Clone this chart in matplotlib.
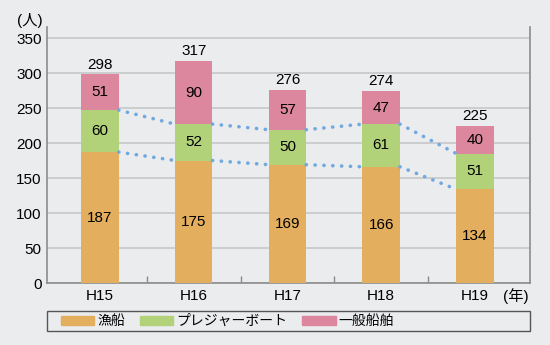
import numpy as np
import matplotlib
matplotlib.use("Agg")
import matplotlib.pyplot as plt
from matplotlib.patches import Rectangle

plt.rcParams['font.family'] = ['Liberation Sans', 'Noto Sans CJK JP', 'DejaVu Sans']

years = ["H15", "H16", "H17", "H18", "H19"]
gyosen = [187, 175, 169, 166, 134]
pleasure = [60, 52, 50, 61, 51]
ippan = [51, 90, 57, 47, 40]
totals = [298, 317, 276, 274, 225]
series_names = ["漁船", "プレジャーボート", "一般船舶"]
colors = ["#e3ae5e", "#b2d27a", "#dc879d"]
bg = "#ebecee"

fig = plt.figure(figsize=(5.5, 3.45), dpi=100, facecolor=bg)
ax = fig.add_axes([0.0855, 0.1797, 0.878, 0.742])
ax.set_facecolor(bg)

x = np.arange(len(years))
w = 0.4
data = [gyosen, pleasure, ippan]
bottom = np.zeros(len(years))
for vals, c in zip(data, colors):
    vals = np.array(vals)
    ax.bar(x, vals, w, bottom=bottom, color=c, zorder=3)
    for xi, b, v in zip(x, bottom, vals):
        ax.text(xi, b + v / 2, str(v), ha="center", va="center",
                fontsize=11, zorder=5)
    bottom = bottom + vals

for xi, t in zip(x, totals):
    ax.annotate(str(t), (xi, t), xytext=(0, 2), textcoords="offset points",
                ha="center", va="bottom", fontsize=11)

# dotted connector lines between bars
lvl1 = np.array(gyosen)
lvl2 = np.array(gyosen) + np.array(pleasure)
for lvl in (lvl1, lvl2):
    for i in range(len(years) - 1):
        ax.plot([x[i] + w / 2, x[i + 1] - w / 2], [lvl[i], lvl[i + 1]],
                color="#70a8e0", lw=2.6, linestyle=(0, (0.05, 2.4)),
                dash_capstyle="round", zorder=4)

ax.set_xlim(-0.565, 4.587)
ax.set_ylim(0, 365.7)
ax.set_yticks(np.arange(0, 351, 50))
ax.yaxis.grid(True, color="#c9cacc", lw=1.3, zorder=0)
ax.tick_params(axis="y", length=0, labelsize=11, pad=4)
ax.set_xticks(x)
ax.set_xticklabels(years, fontsize=11)
ax.tick_params(axis="x", length=0, pad=4)
ax.set_xticks(x[:-1] + 0.5, minor=True)
ax.tick_params(axis="x", which="minor", direction="in", length=5,
               color="#888888", width=1)

ax.spines["top"].set_visible(False)
for s in ("left", "right", "bottom"):
    ax.spines[s].set_color("#8c8c8c")
    ax.spines[s].set_linewidth(1.2)

fig.text(0.03, 0.94, "(人)", fontsize=11, ha="left", va="center")
fig.text(0.962, 0.143, "(年)", fontsize=11, ha="right", va="center")

# legend box
fig.patches.append(Rectangle((0.0855, 0.040), 0.878, 0.058, transform=fig.transFigure,
                             fill=False, edgecolor="#555555", lw=1))
handles = [Rectangle((0, 0), 1, 1, color=c) for c in colors]
fig.legend(handles, series_names, loc="center left", bbox_to_anchor=(0.088, 0.069),
           ncol=3, frameon=False, handlelength=2.4, handleheight=0.6,
           handletextpad=0.2, columnspacing=1.1,
           prop={"family": ["Noto Sans CJK JP", "DejaVu Sans"], "size": 10})

fig.savefig("out.png", dpi=100, facecolor=bg)
